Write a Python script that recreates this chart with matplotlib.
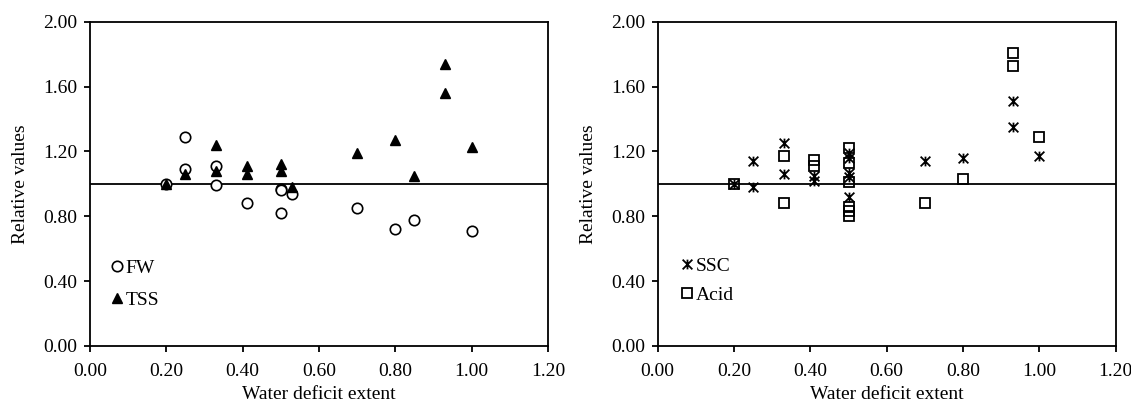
import numpy as np
import matplotlib
matplotlib.use('Agg')
import matplotlib.pyplot as plt
from matplotlib.path import Path

plt.rcParams['font.family'] = 'Liberation Serif'
plt.rcParams['font.size'] = 14

# Left panel: fresh weight (FW) and total soluble solids (TSS)
fw_x = [0.20, 0.25, 0.25, 0.33, 0.33, 0.41, 0.50, 0.50, 0.50, 0.53, 0.70, 0.80, 0.85, 1.00]
fw_y = [1.00, 1.29, 1.09, 1.11, 0.99, 0.88, 0.97, 0.96, 0.82, 0.94, 0.85, 0.72, 0.78, 0.71]
tss_x = [0.20, 0.25, 0.33, 0.33, 0.41, 0.41, 0.50, 0.50, 0.53, 0.70, 0.80, 0.85, 0.93, 0.93, 1.00]
tss_y = [1.00, 1.06, 1.24, 1.08, 1.11, 1.06, 1.12, 1.08, 0.98, 1.19, 1.27, 1.05, 1.74, 1.56, 1.23]

# Right panel: soluble solids content (SSC) and acid
ssc_x = [0.20, 0.25, 0.25, 0.33, 0.33, 0.41, 0.41, 0.50, 0.50, 0.50, 0.50, 0.50,
         0.70, 0.80, 0.93, 0.93, 1.00]
ssc_y = [1.00, 1.14, 0.98, 1.25, 1.06, 1.05, 1.02, 1.19, 1.16, 1.07, 1.04, 0.92,
         1.14, 1.16, 1.51, 1.35, 1.17]
acid_x = [0.20, 0.33, 0.33, 0.41, 0.41, 0.50, 0.50, 0.50, 0.50, 0.50, 0.50,
          0.70, 0.80, 0.93, 0.93, 1.00]
acid_y = [1.00, 1.17, 0.88, 1.15, 1.11, 1.22, 1.13, 1.01, 0.86, 0.83, 0.80,
          0.88, 1.03, 1.81, 1.73, 1.29]

xticks = [0.0, 0.2, 0.4, 0.6, 0.8, 1.0, 1.2]
yticks = [0.0, 0.4, 0.8, 1.2, 1.6, 2.0]

# star marker like the Excel one: an X with a vertical stroke
star = Path([(-1, -1), (1, 1), (-1, 1), (1, -1), (0, -1), (0, 1)],
            [Path.MOVETO, Path.LINETO, Path.MOVETO, Path.LINETO, Path.MOVETO, Path.LINETO])

fig = plt.figure(figsize=(11.31, 4.05), dpi=100)
ax1 = fig.add_axes([0.0796, 0.146, 0.405, 0.800])
ax2 = fig.add_axes([0.5815, 0.146, 0.405, 0.800])


def style(ax):
    ax.set_xlim(0, 1.2)
    ax.set_ylim(0, 2.0)
    ax.set_xticks(xticks)
    ax.set_yticks(yticks)
    ax.set_xticklabels(['%.2f' % v for v in xticks])
    ax.set_yticklabels(['%.2f' % v for v in yticks])
    ax.axhline(1.0, color='black', lw=1.3, zorder=1)
    for s in ax.spines.values():
        s.set_linewidth(1.3)
        s.set_color('black')
    ax.tick_params(direction='out', length=4.5, width=1.3, top=False, right=False)
    ax.tick_params(axis='x', pad=8)
    ax.tick_params(axis='y', pad=4.5)
    ax.set_xlabel('Water deficit extent', labelpad=4)
    ax.set_ylabel('Relative values', labelpad=10)


style(ax1)
ax1.plot(fw_x, fw_y, linestyle='none', marker='o', ms=7.5, mfc='white', mec='black',
         mew=1.2, label='FW', zorder=3)
ax1.plot(tss_x, tss_y, linestyle='none', marker='^', ms=7.5, mfc='black', mec='black',
         mew=1.0, label='TSS', zorder=4)
ax1.legend(loc='upper left', bbox_to_anchor=(0.0456, 0.267), frameon=False, borderpad=0,
           borderaxespad=0, handlelength=0.6, handletextpad=0.15, labelspacing=0.75)

style(ax2)
ax2.plot(acid_x, acid_y, linestyle='none', marker='s', ms=7, mfc='none', mec='black',
         mew=1.3, label='Acid', zorder=3)
ax2.plot(ssc_x, ssc_y, linestyle='none', marker=star, ms=7, mfc='none', mec='black',
         mew=1.3, label='SSC', zorder=4)
h, l = ax2.get_legend_handles_labels()
ax2.legend(h[::-1], l[::-1], loc='upper left', bbox_to_anchor=(0.0507, 0.2725), frameon=False,
           borderpad=0, borderaxespad=0, handlelength=0.6, handletextpad=0.15, labelspacing=0.57)

fig.savefig('out.png', dpi=100)
